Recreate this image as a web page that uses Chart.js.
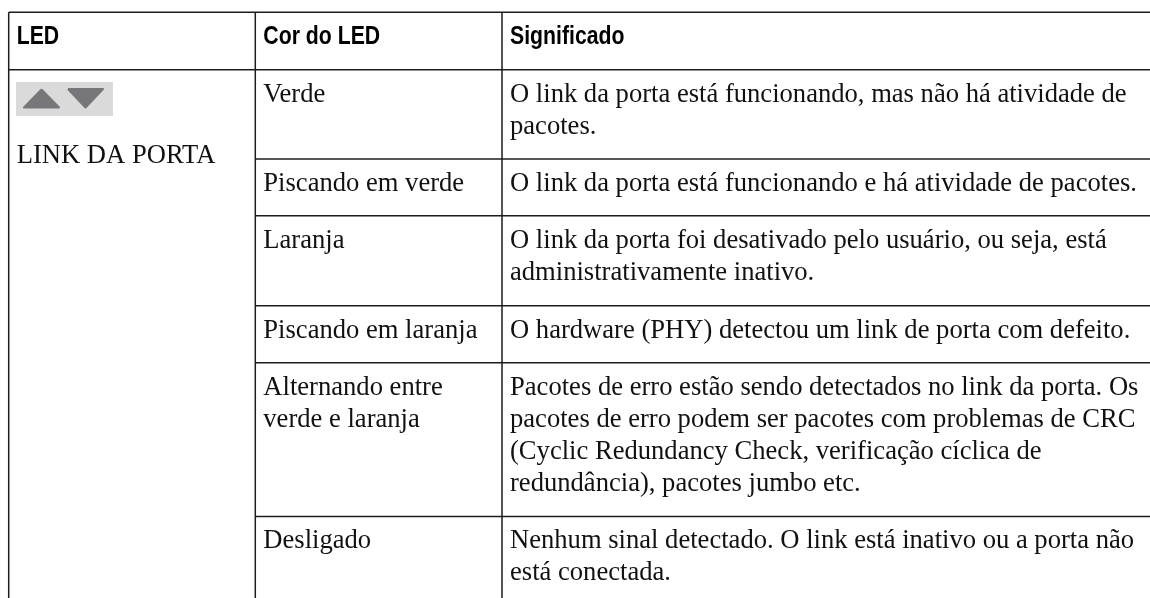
<!DOCTYPE html>
<html lang="pt">
<head>
<meta charset="utf-8">
<title>LED da porta</title>
<script src="https://cdn.jsdelivr.net/npm/chart.js@4"></script>
<style>
  html, body { margin: 0; background: #fff; }
  canvas { display: block; }
</style>
</head>
<body>
<canvas id="tabelaLed" width="1150" height="598"></canvas>
<script>
// Textos da tabela
const cabecalhos = ['LED', 'Cor do LED', 'Significado'];
const nomeLed = 'LINK DA PORTA';
const cores = [
    ['Verde'],
    ['Piscando em verde'],
    ['Laranja'],
    ['Piscando em laranja'],
    ['Alternando entre', 'verde e laranja'],
    ['Desligado']
];
const significados = [
    ['O link da porta está funcionando, mas não há atividade de', 'pacotes.'],
    ['O link da porta está funcionando e há atividade de pacotes.'],
    ['O link da porta foi desativado pelo usuário, ou seja, está', 'administrativamente inativo.'],
    ['O hardware (PHY) detectou um link de porta com defeito.'],
    ['Pacotes de erro estão sendo detectados no link da porta. Os',
     'pacotes de erro podem ser pacotes com problemas de CRC',
     '(Cyclic Redundancy Check, verificação cíclica de',
     'redundância), pacotes jumbo etc.'],
    ['Nenhum sinal detectado. O link está inativo ou a porta não', 'está conectada.']
];

// Limites das células (unidades dos eixos)
const limitesColunas = [8.7, 255.3, 502, 1150];
const limitesLinhas = [12.3, 69.8, 159, 215.8, 305.8, 362.8, 516.4, 598];

// Ícone do LED
const fundoIcone = [[16, 82], [113, 82], [113, 116], [16, 116]];
const setaCima = [[41.5, 89.5], [59, 107.5], [24, 107.5]];
const setaBaixo = [[68, 89], [103, 89], [85.5, 107.5]];

// Função para criar um segmento de linha da grade
function criarSegmento(x1, y1, x2, y2) {
    return {
        data: [{ x: x1, y: y1 }, { x: x2, y: y2 }],
        showLine: true,
        borderColor: '#1c1c1c',
        borderWidth: 1.5,
        pointRadius: 0,
        fill: false
    };
}

// Função para criar um polígono preenchido
function criarPoligono(pontos, cor, borda) {
    return {
        data: pontos.concat([pontos[0]]).map(p => ({ x: p[0], y: p[1] })),
        showLine: true,
        borderColor: cor,
        borderWidth: borda,
        borderJoinStyle: 'round',
        backgroundColor: cor,
        pointRadius: 0,
        fill: 'shape'
    };
}

function montarDatasets() {
    let datasets = [];
    let xIni = limitesColunas[0], xFim = limitesColunas[3];
    let yIni = limitesLinhas[0], yFim = limitesLinhas[7];

    // O Chart.js desenha o primeiro dataset por cima, então as setas vêm antes do fundo
    datasets.push(criarPoligono(setaCima, '#77777b', 2));
    datasets.push(criarPoligono(setaBaixo, '#77777b', 2));
    datasets.push(criarPoligono(fundoIcone, '#dadada', 0));

    // Colunas
    limitesColunas.slice(0, 3).forEach(x => datasets.push(criarSegmento(x, yIni, x, yFim)));

    // Linhas: a primeira coluna ocupa todas as linhas do corpo
    datasets.push(criarSegmento(xIni, limitesLinhas[0], xFim, limitesLinhas[0]));
    datasets.push(criarSegmento(xIni, limitesLinhas[1], xFim, limitesLinhas[1]));
    limitesLinhas.slice(2, 7).forEach(y => {
        datasets.push(criarSegmento(limitesColunas[1], y, xFim, y));
    });
    return datasets;
}

// Plugin que escreve os textos usando as escalas do gráfico
const textosTabela = {
    id: 'textosTabela',
    afterDatasetsDraw(chart) {
        let ctx = chart.ctx;
        let escalaX = chart.scales.x, escalaY = chart.scales.y;

        function escrever(texto, x, y) {
            ctx.fillText(texto, escalaX.getPixelForValue(x), escalaY.getPixelForValue(y));
        }

        ctx.save();
        ctx.textBaseline = 'alphabetic';
        ctx.textAlign = 'left';
        ctx.fillStyle = '#000';

        // Cabeçalho em fonte condensada
        ctx.font = "bold 25px 'Liberation Sans'";
        cabecalhos.forEach((texto, i) => {
            ctx.save();
            ctx.translate(escalaX.getPixelForValue(limitesColunas[i] + 8), escalaY.getPixelForValue(44.4));
            ctx.scale(0.85, 1);
            ctx.fillText(texto, 0, 0);
            ctx.restore();
        });

        ctx.font = "26.6px 'Liberation Serif'";
        ctx.fillStyle = '#111';
        escrever(nomeLed, limitesColunas[0] + 8, 163);

        cores.forEach((linhas, i) => {
            linhas.forEach((texto, j) => {
                escrever(texto, limitesColunas[1] + 8, limitesLinhas[i + 1] + 31.7 + j * 32);
            });
        });
        significados.forEach((linhas, i) => {
            linhas.forEach((texto, j) => {
                escrever(texto, limitesColunas[2] + 8, limitesLinhas[i + 1] + 31.7 + j * 32);
            });
        });
        ctx.restore();
    }
};

new Chart(document.getElementById('tabelaLed').getContext('2d'), {
    type: 'scatter',
    data: { datasets: montarDatasets() },
    options: {
        responsive: false,
        animation: false,
        layout: { padding: 0 },
        scales: {
            x: { type: 'linear', display: false, min: 0, max: 1150 },
            y: { type: 'linear', display: false, min: 0, max: 598, reverse: true }
        },
        plugins: {
            legend: { display: false },
            tooltip: { enabled: false }
        }
    },
    plugins: [textosTabela]
});
</script>
</body>
</html>
